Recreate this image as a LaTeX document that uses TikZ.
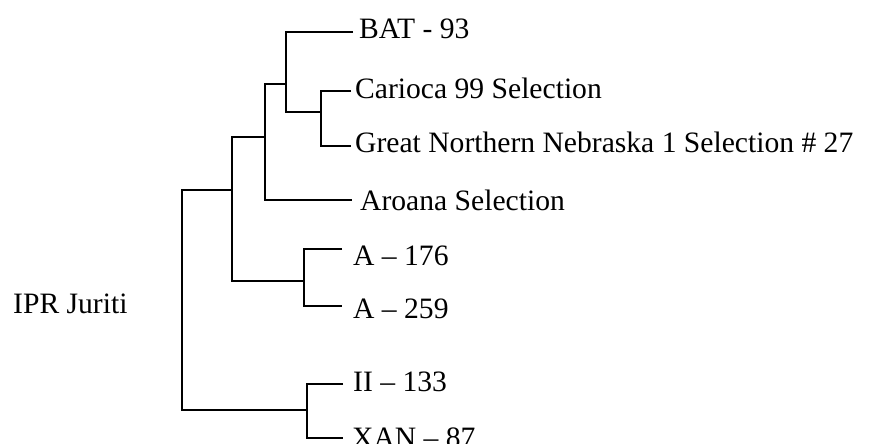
\documentclass[tikz,border=0pt]{standalone}
\usepackage{fontspec}
\setmainfont{Liberation Serif}
\usepackage{tikz}
\tikzset{branch/.style = {line width = 2pt}}
\tikzset{leaf/.style = {anchor = base west, inner sep = 0, font = \fontsize{29.6}{36}\selectfont}}

\begin{document}
\begin{tikzpicture}[x = 1pt, y = -1pt]
      \useasboundingbox (0, 0) rectangle (871, 444);
      % inner nodes of the tree
      \coordinate (r) at (182, 300);
      \coordinate (n1) at (232, 190);
      \coordinate (n2) at (265, 137);
      \coordinate (n3) at (286, 84);
      \coordinate (n4) at (321, 112);
      \coordinate (n5) at (304, 281);
      \coordinate (n6) at (307, 410);
      % tips
      \coordinate (bat) at (353, 32);
      \coordinate (car) at (351, 91);
      \coordinate (gnn) at (351, 146);
      \coordinate (aro) at (352, 200);
      \coordinate (a176) at (342, 249);
      \coordinate (a259) at (342, 306);
      \coordinate (ii) at (343, 384);
      \coordinate (xan) at (343, 438);
      \node [leaf] (batlab) at (359, 39) {BAT - 93};
      \node [leaf] (carlab) at (355, 99) {Carioca 99 Selection};
      \node [leaf] (gnnlab) at (355, 153) {Great Northern Nebraska 1 Selection \# 27};
      \node [leaf] (arolab) at (360, 210) {Aroana Selection};
      \node [leaf] (a176lab) at (353, 265) {A – 176};
      \node [leaf] (a259lab) at (353, 318) {A – 259};
      \node [leaf] (iilab) at (353, 391) {II – 133};
      \node [leaf] (xanlab) at (352, 447) {XAN – 87};
      \node [leaf] (ipr) at (13, 313) {IPR Juriti};
      \draw [branch] (n1) -| (r) |- (n6);
      \draw [branch] (n2) -| (n1) |- (n5);
      \draw [branch] (n3) -| (n2) |- (aro);
      \draw [branch] (bat) -| (n3) |- (n4);
      \draw [branch] (car) -| (n4) |- (gnn);
      \draw [branch] (a176) -| (n5) |- (a259);
      \draw [branch] (ii) -| (n6) |- (xan);
    \end{tikzpicture}
\end{document}
